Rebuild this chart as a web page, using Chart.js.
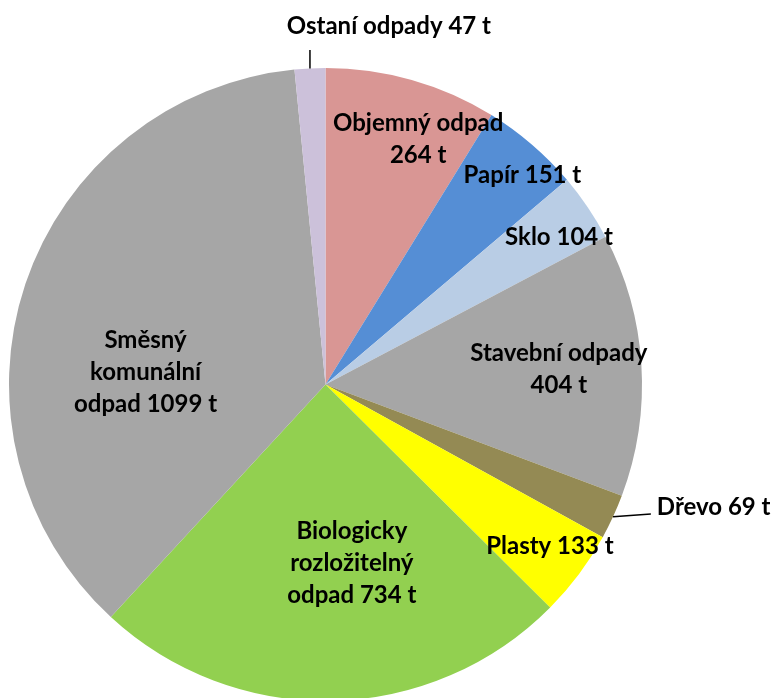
<!DOCTYPE html>
<html>
<head>
<meta charset="utf-8">
<script src="https://cdn.jsdelivr.net/npm/chart.js@4"></script>
<style>
  html, body { margin: 0; padding: 0; background: #fff; overflow: hidden; }
  #wrap { position: absolute; left: 0; top: 0; width: 775px; height: 702px; }
</style>
</head>
<body>
<div id="wrap"><canvas id="c"></canvas></div>
<script>
const categories = ["Objemný odpad", "Papír", "Sklo", "Stavební odpady", "Dřevo", "Plasty", "Biologicky rozložitelný odpad", "Směsný komunální odpad", "Ostaní odpady"];
const values = [264, 151, 104, 404, 69, 133, 734, 1099, 47];
const unit = "t";
const labelLines = [
  ["Objemný odpad", "264 t"],
  ["Papír 151 t"],
  ["Sklo 104 t"],
  ["Stavební odpady", "404 t"],
  ["Dřevo 69 t"],
  ["Plasty 133 t"],
  ["Biologicky", "rozložitelný", "odpad 734 t"],
  ["Směsný", "komunální", "odpad 1099 t"],
  ["Ostaní odpady 47 t"]
];
const colors = ["#D99694", "#558ED5", "#B9CDE5", "#A6A6A6", "#948A54", "#FFFF00", "#92D050", "#A6A6A6", "#CCC1DA"];
// label placement: angle (deg, canvas convention) and distance as fraction of radius
const labelAngle = [-69.4, -46.8, -32.3, -3.8, 17.5, 35.6, 81.6, 184.1, -80.0];
const labelDist = [0.832, 0.909, 0.873, 0.739, 1.286, 0.872, 0.570, 0.570, 1.153];
const leader = [false, false, false, false, true, false, false, false, true];

const FONT = 'bold 24px Lato';
const LINE_H = 32;

const labelPlugin = {
  id: 'pieLabels',
  afterDraw(chart) {
    const ctx = chart.ctx;
    const meta = chart.getDatasetMeta(0);
    ctx.save();
    ctx.font = FONT;
    ctx.fillStyle = '#000';
    ctx.textAlign = 'center';
    ctx.textBaseline = 'alphabetic';
    const capH = 17;
    meta.data.forEach((arc, i) => {
      const p = arc.getProps(['x', 'y', 'outerRadius', 'startAngle', 'endAngle'], true);
      const R = p.outerRadius;
      const a = labelAngle[i] * Math.PI / 180;
      const cx = p.x + Math.cos(a) * R * labelDist[i];
      const cy = p.y + Math.sin(a) * R * labelDist[i];
      const lines = labelLines[i];
      const n = lines.length;
      let maxW = 0;
      lines.forEach((ln, k) => {
        const ly = cy + (k - (n - 1) / 2) * LINE_H;
        ctx.fillText(ln, cx, ly + capH / 2);
        maxW = Math.max(maxW, ctx.measureText(ln).width);
      });
      if (leader[i]) {
        const mid = (p.startAngle + p.endAngle) / 2;
        const ax = p.x + Math.cos(mid) * R;
        const ay = p.y + Math.sin(mid) * R;
        ctx.beginPath();
        ctx.strokeStyle = '#000';
        ctx.lineWidth = 1.5;
        ctx.moveTo(ax, ay);
        if (Math.abs(Math.cos(mid)) < 0.3) {
          // vertical leader up to the label
          ctx.lineTo(ax, cy + 25);
        } else {
          ctx.lineTo(cx - maxW / 2 - 6, cy + 7);
        }
        ctx.stroke();
      }
    });
    ctx.restore();
  }
};

new Chart(document.getElementById('c'), {
  type: 'pie',
  data: {
    labels: categories,
    datasets: [{
      data: values,
      backgroundColor: colors,
      borderWidth: 0
    }]
  },
  options: {
    responsive: true,
    maintainAspectRatio: false,
    animation: false,
    rotation: 0,
    layout: { padding: { left: 9, right: 133, top: 68, bottom: 1 } },
    plugins: {
      legend: { display: false },
      tooltip: { enabled: false },
      title: { display: false }
    }
  },
  plugins: [labelPlugin]
});
</script>
</body>
</html>
